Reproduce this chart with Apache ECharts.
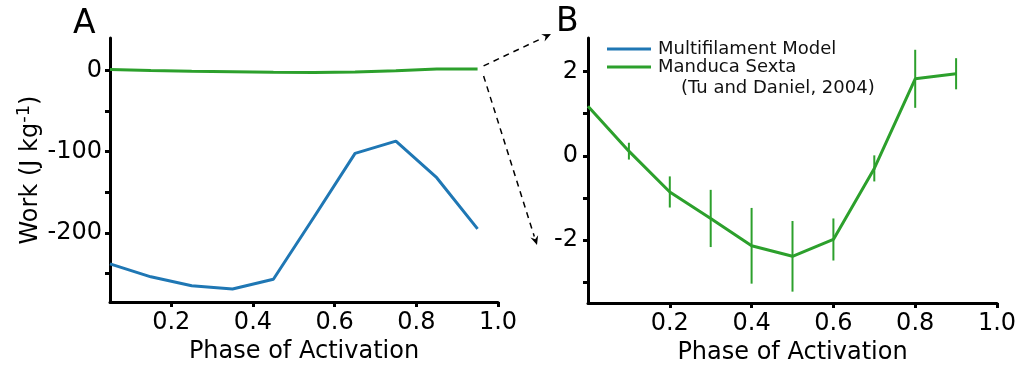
<!DOCTYPE html>
<html>
<head>
<meta charset="utf-8">
<script src="https://cdn.jsdelivr.net/npm/echarts@6/dist/echarts.min.js"></script>
<style>
  html, body { margin: 0; padding: 0; background: #fff; }
  #chart { width: 1036px; height: 366px; }
</style>
</head>
<body>
<div id="chart"></div>
<script>
// Phase of activation sampled by the multifilament model (panel A)
const phaseModel = [0.05, 0.15, 0.25, 0.35, 0.45, 0.55, 0.65, 0.75, 0.85, 0.95];
// Net work per cycle, multifilament model (J/kg)
const workModel = [-238, -254, -265, -269, -257, -180, -102, -87, -132, -195];

// Phase of activation for the Manduca sexta measurements (panel B)
const phaseManduca = [0.0, 0.1, 0.2, 0.3, 0.4, 0.5, 0.6, 0.7, 0.8, 0.9];
// Same measurements shown at the model's phases in panel A
const phaseManducaA = [0.05, 0.15, 0.25, 0.35, 0.45, 0.55, 0.65, 0.75, 0.85, 0.95];
// Measured work (J/kg) and its spread
const workManduca = [1.18, 0.11, -0.86, -1.49, -2.14, -2.39, -1.99, -0.30, 1.83, 1.95];
const errManduca = [0, 0.20, 0.37, 0.68, 0.90, 0.84, 0.50, 0.31, 0.69, 0.37];

// Axis ticks and labels
const xTicks = [0.2, 0.4, 0.6, 0.8, 1.0];
const yTicksA = [-250, -200, -150, -100, -50, 0];
const yLabelsA = [-200, -100, 0];
const yTicksB = [-3, -2, -1, 0, 1, 2];
const yLabelsB = [-2, 0, 2];

const BLUE = '#1f77b4';
const GREEN = '#2ca02c';
const FONT = 'DejaVu Sans';

const chart = echarts.init(document.getElementById('chart'), null, { renderer: 'canvas' });

const axisLine = { show: true, onZero: false, lineStyle: { color: '#000', width: 3 } };
const tick = (vals) => ({ show: true, customValues: vals, length: 5, lineStyle: { color: '#000', width: 3 } });
const label = (vals, fmt) => ({
  show: true, customValues: vals, formatter: fmt,
  color: '#000', fontFamily: FONT, fontSize: 24
});

function xAxis(gridIndex, min) {
  return {
    type: 'value', gridIndex, min, max: 1.0,
    axisLine, axisTick: tick(xTicks),
    axisLabel: Object.assign(label(xTicks, v => v.toFixed(1)), { margin: 9 }),
    splitLine: { show: false },
    name: 'Phase of Activation', nameLocation: 'middle', nameGap: 38,
    nameTextStyle: { color: '#000', fontFamily: FONT, fontSize: 24 }
  };
}

const option = {
  animation: false,
  backgroundColor: '#fff',
  textStyle: { fontFamily: FONT },
  grid: [
    { left: 110, top: 38, width: 388, height: 264, outerBoundsMode: 'none', containLabel: false },
    { left: 588, top: 38, width: 409, height: 265, outerBoundsMode: 'none', containLabel: false }
  ],
  xAxis: [xAxis(0, 0.05), xAxis(1, 0)],
  yAxis: [
    {
      type: 'value', gridIndex: 0, min: -285, max: 40,
      axisLine, axisTick: tick(yTicksA),
      axisLabel: Object.assign(label(yLabelsA, v => String(v)), { margin: 8 }),
      splitLine: { show: false },
      name: 'Work (J kg{sup|-1})', nameLocation: 'middle', nameRotate: 90, nameGap: 63,
      nameTextStyle: {
        color: '#000', fontFamily: FONT, fontSize: 24,
        rich: { sup: { fontSize: 18, fontFamily: FONT, color: '#000', verticalAlign: 'top', padding: [0, 0, 14, 0] } }
      }
    },
    {
      type: 'value', gridIndex: 1, min: -3.5, max: 2.8,
      axisLine, axisTick: tick(yTicksB),
      axisLabel: Object.assign(label(yLabelsB, v => String(v)), { margin: 10 }),
      splitLine: { show: false }
    }
  ],
  legend: {
    left: 602, top: 35, orient: 'vertical', itemGap: 0,
    icon: 'rect', itemWidth: 44, itemHeight: 3,
    textStyle: { color: '#111', fontFamily: FONT, fontSize: 18, lineHeight: 18, padding: [0, 0, 0, 2] },
    data: ['Multifilament Model', 'Manduca Sexta']
  },
  series: [
    {
      name: 'Multifilament Model', type: 'line', xAxisIndex: 0, yAxisIndex: 0,
      data: phaseModel.map((x, i) => [x, workModel[i]]),
      showSymbol: false, color: BLUE, lineStyle: { width: 3, color: BLUE }
    },
    {
      name: 'Manduca Sexta', type: 'line', xAxisIndex: 0, yAxisIndex: 0,
      data: phaseManducaA.map((x, i) => [x, workManduca[i]]),
      showSymbol: false, color: GREEN, lineStyle: { width: 3, color: GREEN }
    },
    {
      name: 'Manduca Sexta', type: 'line', xAxisIndex: 1, yAxisIndex: 1,
      data: phaseManduca.map((x, i) => [x, workManduca[i]]),
      showSymbol: false, color: GREEN, lineStyle: { width: 3, color: GREEN }, z: 3
    },
    {
      name: 'spread', type: 'custom', xAxisIndex: 1, yAxisIndex: 1,
      data: phaseManduca.map((x, i) => [x, workManduca[i], errManduca[i]]),
      renderItem: (params, api) => {
        const x = api.value(0), y = api.value(1), e = api.value(2);
        if (!e) return null;
        const p1 = api.coord([x, y - e]);
        const p2 = api.coord([x, y + e]);
        return {
          type: 'line',
          shape: { x1: p1[0], y1: p1[1], x2: p2[0], y2: p2[1] },
          style: { stroke: GREEN, lineWidth: 2 }
        };
      },
      z: 2
    }
  ]
};

chart.setOption(option);

// Dashed zoom-in arrows from panel A's measured curve to panel B
function arrow(x1, y1, x2, y2) {
  const ang = Math.atan2(y2 - y1, x2 - x1);
  const len = 9, half = 4;
  const bx = x2 - len * Math.cos(ang), by = y2 - len * Math.sin(ang);
  const nx = -Math.sin(ang) * half, ny = Math.cos(ang) * half;
  return [
    {
      type: 'line',
      shape: { x1, y1, x2: bx, y2: by },
      style: { stroke: '#000', lineWidth: 1.5, lineDash: [6, 5] }
    },
    {
      type: 'polygon',
      shape: { points: [[x2, y2], [bx + nx, by + ny], [bx + 3 * Math.cos(ang), by + 3 * Math.sin(ang)], [bx - nx, by - ny]] },
      style: { fill: '#000' }
    }
  ];
}

const end = chart.convertToPixel({ xAxisIndex: 0, yAxisIndex: 0 }, [phaseManducaA[9], workManduca[9]]);
const sx = end[0] + 6;

chart.setOption({
  graphic: [
    { type: 'text', left: 73, top: 8, style: { text: 'A', fontSize: 33, fontFamily: FONT, fill: '#000' } },
    { type: 'text', left: 556, top: 6, style: { text: 'B', fontSize: 33, fontFamily: FONT, fill: '#000' } },
    {
      type: 'text', left: 681, top: 79,
      style: { text: '(Tu and Daniel, 2004)', fontSize: 18, fontFamily: FONT, fill: '#111' }
    },
    ...arrow(sx, end[1] - 3, 551, 34),
    ...arrow(sx, end[1] + 7, 537, 245)
  ]
});
</script>
</body>
</html>
